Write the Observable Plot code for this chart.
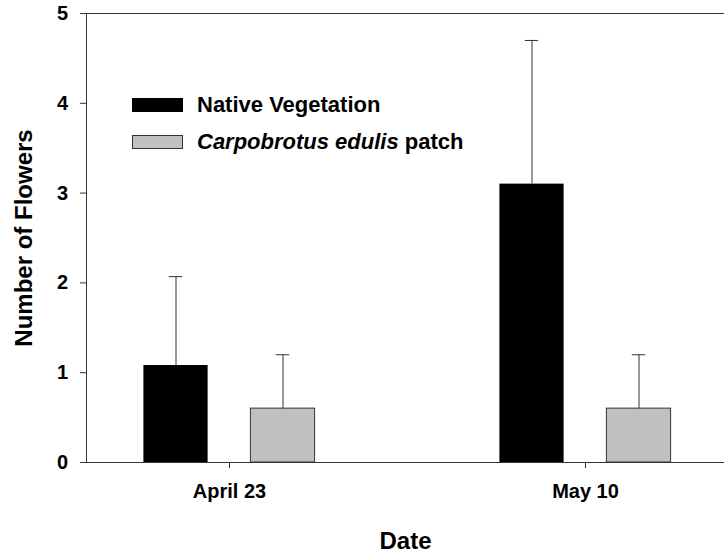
<!DOCTYPE html>
<html>
<head>
<meta charset="utf-8">
<script src="https://cdn.jsdelivr.net/npm/d3@7"></script>
<script src="https://cdn.jsdelivr.net/npm/@observablehq/plot@0.6"></script>
<style>
  body { margin: 0; background: #fff; }
  #wrap { position: relative; width: 724px; height: 554px; font-family: "Liberation Sans", Arial, sans-serif; }
  #legend { position: absolute; left: 132px; top: 86.75px; font-weight: bold; font-size: 22px; color: #000; }
  #legend .row { display: flex; align-items: center; height: 36.5px; white-space: nowrap; }
  #legend .sw { box-sizing: border-box; width: 51px; height: 14px; margin-right: 14px; }
  g[aria-label="y-axis label"] text, g[aria-label="x-axis label"] text { font-size: 24px; }
</style>
</head>
<body>
<div id="wrap"></div>
<script>
const dates = ["April 23", "May 10"];
const groups = ["Native Vegetation", "Carpobrotus edulis patch"];
const nativeMean = [1.08, 3.10];
const nativeErr = [0.99, 1.60];
const carpoMean = [0.60, 0.60];
const carpoErr = [0.60, 0.60];
const yTicks = [0, 1, 2, 3, 4, 5];
const colors = ["#000000", "#c0c0c0"];

const nativeRows = dates.map((d, i) => ({date: d, group: groups[0], value: nativeMean[i], err: nativeErr[i]}));
const carpoRows = dates.map((d, i) => ({date: d, group: groups[1], value: carpoMean[i], err: carpoErr[i]}));

const barOpts = {insetLeft: 145.9, insetRight: 145.9};
const capOpts = {insetLeft: 171.25, insetRight: 171.25};
const ink = "#333";

const chart = Plot.plot({
  width: 724,
  height: 554,
  marginLeft: 86,
  marginRight: 0,
  marginTop: 13,
  marginBottom: 92,
  style: {fontFamily: "'Liberation Sans', Arial, sans-serif", fontSize: "20px", fontWeight: "bold", color: "#000", background: "#fff"},
  x: {type: "band", domain: dates, range: [50.75, 763.75], padding: 0},
  y: {domain: [0, 5]},
  marks: [
    Plot.barY(nativeRows, {x: "date", y: "value", fill: colors[0], dx: -53.5, ...barOpts}),
    Plot.barY(carpoRows, {x: "date", y: "value", fill: colors[1], stroke: ink, strokeWidth: 1, dx: 53.5, ...barOpts}),
    Plot.ruleX(nativeRows, {x: "date", y1: "value", y2: d => d.value + d.err, stroke: ink, dx: -53.5}),
    Plot.ruleX(carpoRows, {x: "date", y1: "value", y2: d => d.value + d.err, stroke: ink, dx: 53.5}),
    Plot.tickY(nativeRows, {x: "date", y: d => d.value + d.err, stroke: ink, dx: -53.5, ...capOpts}),
    Plot.tickY(carpoRows, {x: "date", y: d => d.value + d.err, stroke: ink, dx: 53.5, ...capOpts}),
    Plot.ruleY([0, 5], {stroke: ink}),
    Plot.frame({anchor: "left", stroke: ink}),
    Plot.axisY({ticks: yTicks, tickFormat: d3.format("d"), tickSize: 6, tickPadding: 12.5, stroke: ink, fill: "#000",
      label: "Number of Flowers", labelArrow: "none", labelAnchor: "center", labelOffset: 72}),
    Plot.axisX({tickSize: 6, tickPadding: 15, stroke: ink, fill: "#000",
      label: "Date", labelArrow: "none", labelAnchor: "center", labelOffset: 86})
  ]
});

const wrap = document.getElementById("wrap");
wrap.appendChild(chart);

const legend = document.createElement("div");
legend.id = "legend";
groups.forEach((g, i) => {
  const row = document.createElement("div");
  row.className = "row";
  const sw = document.createElement("span");
  sw.className = "sw";
  sw.style.background = colors[i];
  if (i === 1) sw.style.border = "1px solid " + ink;
  row.appendChild(sw);
  const label = document.createElement("span");
  if (g.startsWith("Carpobrotus edulis")) {
    const it = document.createElement("i");
    it.textContent = "Carpobrotus edulis";
    label.appendChild(it);
    label.appendChild(document.createTextNode(g.slice("Carpobrotus edulis".length)));
  } else {
    label.textContent = g;
  }
  row.appendChild(label);
  legend.appendChild(row);
});
wrap.appendChild(legend);
</script>
</body>
</html>
